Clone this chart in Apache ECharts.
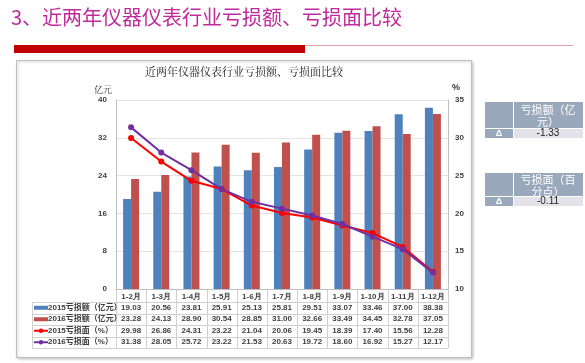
<!DOCTYPE html>
<html><head><meta charset="utf-8">
<script src="https://cdn.jsdelivr.net/npm/echarts@6/dist/echarts.min.js"></script>
<style>html,body{margin:0;padding:0;background:#fff;}#c{width:585px;height:363px;}</style>
</head><body><div id="c"></div>
<script>
var pageTitle = '3、近两年仪器仪表行业亏损额、亏损面比较';
var chartTitle = '近两年仪器仪表行业亏损额、亏损面比较';
var categories = ['1-2月','1-3月','1-4月','1-5月','1-6月','1-7月','1-8月','1-9月','1-10月','1-11月','1-12月'];
var loss2015 = [19.03,20.56,23.81,25.91,25.13,25.81,29.51,33.07,33.46,37.00,38.38];
var loss2016 = [23.28,24.13,28.90,30.54,28.85,31.00,32.66,33.49,34.45,32.78,37.05];
var ratio2015 = [29.98,26.86,24.31,23.22,21.04,20.06,19.45,18.39,17.40,15.56,12.28];
var ratio2016 = [31.38,28.05,25.72,23.22,21.53,20.63,19.72,18.60,16.92,15.27,12.17];
var seriesNames = ['2015亏损额（亿元）','2016亏损额（亿元）','2015亏损面（%）','2016亏损面（%）'];
var leftAxisName = '亿元', rightAxisName = '%';
var boxHeaders = ['亏损额（亿\n元）','亏损面（百\n分点）'];
var boxValues = ['-1.33','-0.11'];
var colors = ['#4F81BD','#C0504D','#FF0000','#7030A0'];

var chart = echarts.init(document.getElementById('c'), null, {renderer:'canvas'});
var lblFont = {fontFamily:'Liberation Sans', fontWeight:'bold', fontSize:8, color:'#404040'};
var option = {
  animation:false,
  grid:{left:116, right:137, top:100, bottom:74},
  xAxis:{type:'category', data:categories,
    axisLine:{lineStyle:{color:'#BFBFBF'}}, axisTick:{show:false},
    axisLabel:Object.assign({margin:4, interval:0}, lblFont)},
  yAxis:[
    {type:'value', min:0, max:40, interval:8, name:leftAxisName, nameGap:6,
     nameTextStyle:{fontFamily:'Noto Serif CJK SC, Noto Sans CJK SC', fontSize:9, color:'#333', align:'right', padding:[0,4,0,0]},
     axisLine:{show:true, lineStyle:{color:'#BFBFBF'}}, axisTick:{show:false},
     axisLabel:Object.assign({margin:9}, lblFont),
     splitLine:{lineStyle:{color:'#E3E3E3'}}},
    {type:'value', min:10, max:35, interval:5, name:rightAxisName, nameGap:8,
     nameTextStyle:{fontFamily:'Liberation Sans', fontWeight:'bold', fontSize:9, color:'#333', align:'left', padding:[0,0,0,4]},
     axisLine:{show:true, lineStyle:{color:'#BFBFBF'}}, axisTick:{show:false},
     axisLabel:Object.assign({margin:7}, lblFont),
     splitLine:{show:false}}
  ],
  series:[
    {name:seriesNames[0], type:'bar', data:loss2015, barWidth:8, barGap:'0%', itemStyle:{color:colors[0]}},
    {name:seriesNames[1], type:'bar', data:loss2016, barWidth:8, barGap:'0%', itemStyle:{color:colors[1]}},
    {name:seriesNames[2], type:'line', yAxisIndex:1, data:ratio2015, symbol:'circle', symbolSize:6,
     lineStyle:{color:colors[2], width:2}, itemStyle:{color:colors[2]}},
    {name:seriesNames[3], type:'line', yAxisIndex:1, data:ratio2016, symbol:'circle', symbolSize:6,
     lineStyle:{color:colors[3], width:2}, itemStyle:{color:colors[3]}}
  ]
};
chart.setOption(option);

// build graphics
var g = [];
// page title
g.push({type:'text', left:11, top:7, style:{text:pageTitle, font:'20px "Noto Sans CJK SC"', fill:'#C02A9B'}});
g.push({type:'rect', shape:{x:14, y:45, width:291, height:8}, style:{fill:'#C00000'}});
g.push({type:'line', shape:{x1:305, y1:45.5, x2:573, y2:45.5}, style:{stroke:'#D9A0A8', lineWidth:1}});
// chart frame
g.push({type:'rect', z:-10, shape:{x:16.5, y:60.5, width:455, height:297}, style:{fill:'#fff', stroke:'#BFBFBF', lineWidth:1, shadowBlur:3, shadowColor:'rgba(0,0,0,0.25)', shadowOffsetX:1, shadowOffsetY:1}});
g.push({type:'text', x:244, y:66, style:{text:chartTitle, font:'11px "Noto Serif CJK SC","Noto Sans CJK SC"', fill:'#222', textAlign:'center'}});

// table
var half = (chart.convertToPixel({xAxisIndex:0}, 1) - chart.convertToPixel({xAxisIndex:0}, 0)) / 2;
var x0 = chart.convertToPixel({xAxisIndex:0}, 0) - half;
var xN = chart.convertToPixel({xAxisIndex:0}, categories.length-1) + half;
var yAxisPix = chart.convertToPixel({yAxisIndex:0}, 0);
var tableLeft = 32, rowTop = yAxisPix + 13, rowH = 11.5;
var lineCol = '#D0D0D0';
for (var i = 0; i <= categories.length; i++) {
  var xx = Math.round(x0 + i*2*half) + 0.5;
  g.push({type:'line', shape:{x1:xx, y1:yAxisPix, x2:xx, y2:rowTop + 4*rowH}, style:{stroke:lineCol, lineWidth:1}});
}
g.push({type:'line', shape:{x1:tableLeft+0.5, y1:rowTop, x2:tableLeft+0.5, y2:rowTop+4*rowH}, style:{stroke:lineCol, lineWidth:1}});
for (var r = 0; r <= 4; r++) {
  var yy = Math.round(rowTop + r*rowH) + 0.5;
  g.push({type:'line', shape:{x1:tableLeft, y1:yy, x2:xN, y2:yy}, style:{stroke:lineCol, lineWidth:1}});
}
var rows = [loss2015, loss2016, ratio2015, ratio2016];
for (var r = 0; r < 4; r++) {
  var cy = rowTop + r*rowH + rowH/2;
  // legend marker
  if (r < 2) {
    g.push({type:'rect', shape:{x:34, y:cy-2, width:14, height:4}, style:{fill:colors[r]}});
  } else {
    g.push({type:'line', shape:{x1:34, y1:cy, x2:48, y2:cy}, style:{stroke:colors[r], lineWidth:2}});
    g.push({type:'circle', shape:{cx:41, cy:cy, r:2.2}, style:{fill:colors[r]}});
  }
  g.push({type:'text', x:48, y:cy, style:{text:seriesNames[r], font:'bold 8px "Liberation Sans","Noto Sans CJK SC"', fill:'#404040', textVerticalAlign:'middle'}});
  for (var i = 0; i < categories.length; i++) {
    var cx = chart.convertToPixel({xAxisIndex:0}, i);
    g.push({type:'text', x:cx, y:cy, style:{text:rows[r][i].toFixed(2), font:'bold 8px "Liberation Sans"', fill:'#404040', textAlign:'center', textVerticalAlign:'middle'}});
  }
}
// right boxes
var boxTops = [102, 173];
var hdrH = [26, 23];
for (var b = 0; b < 2; b++) {
  var t = boxTops[b];
  g.push({type:'rect', shape:{x:485, y:t, width:28, height:hdrH[b]}, style:{fill:'#9AA8BC'}});
  g.push({type:'rect', shape:{x:514, y:t, width:69, height:hdrH[b]}, style:{fill:'#9AA8BC'}});
  g.push({type:'text', x:548, y:t + hdrH[b]/2 + 1, style:{text:boxHeaders[b], font:'11px "Noto Sans CJK SC"', fill:'#fff', textAlign:'center', textVerticalAlign:'middle', lineHeight:12}});
  var ry = t + hdrH[b] + 1;
  g.push({type:'rect', shape:{x:485, y:ry, width:28, height:9}, style:{fill:'#9AA8BC'}});
  g.push({type:'rect', shape:{x:514, y:ry, width:69, height:9}, style:{fill:'#E2E2E8'}});
  g.push({type:'text', x:499, y:ry+4.5, style:{text:'Δ', font:'bold 9px "Liberation Sans"', fill:'#fff', textAlign:'center', textVerticalAlign:'middle'}});
  g.push({type:'text', x:548, y:ry+4.5, style:{text:boxValues[b], font:'10px "Liberation Sans"', fill:'#222', textAlign:'center', textVerticalAlign:'middle'}});
}
chart.setOption({graphic:g});
</script></body></html>
